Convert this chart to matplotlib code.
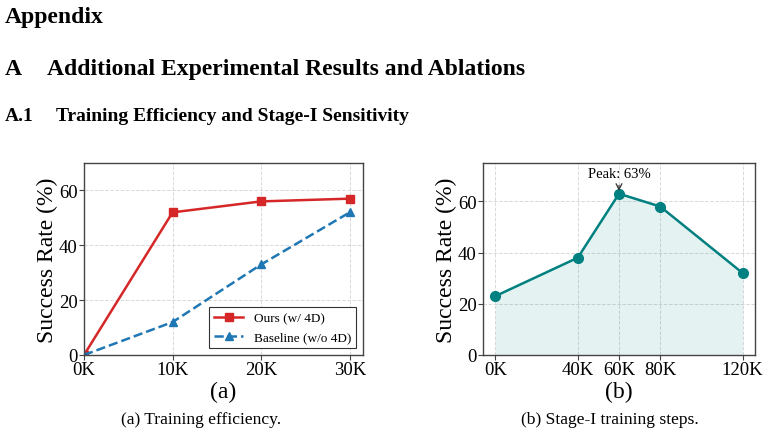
import matplotlib

matplotlib.use("Agg")

from matplotlib import pyplot as plt  # noqa: E402

plt.rcParams["font.family"] = ["Liberation Serif", "DejaVu Serif"]

# (a) training efficiency
steps_a = [0, 10, 20, 30]
steps_a_labels = ["0K", "10K", "20K", "30K"]
ours = [0, 52, 56, 57]
baseline = [0, 12, 33, 52]

# (b) stage-I steps
steps_b = [0, 40, 60, 80, 120]
steps_b_labels = ["0K", "40K", "60K", "80K", "120K"]
stage_rate = [23, 38, 63, 58, 32]

W, H = 769, 435


def _style(axis):
    for spine in axis.spines.values():
        spine.set_color("#444444")
        spine.set_linewidth(1.0)
    axis.grid(True, color="#d9d9d9", linestyle="--", linewidth=0.7)
    axis.set_axisbelow(True)
    axis.tick_params(labelsize=13.5, length=3.5, width=0.8, color="#444444", pad=1)
    axis.set_ylabel("Success Rate (%)", fontsize=17, labelpad=0.5)


figure = plt.figure(figsize=(W / 100, H / 100), dpi=100)

ax_a = figure.add_axes([84 / W, 1 - 356 / H, 279 / W, 192 / H])
ax_a.plot(steps_a, ours, color="#d62728", linewidth=1.8, marker="s", markersize=6,
          label="Ours (w/ 4D)")
ax_a.plot(steps_a, baseline, color="#1f77b4", linewidth=1.8, linestyle="--", marker="^",
          markersize=6, label="Baseline (w/o 4D)")
ax_a.set_xlim(0, 31.5)
ax_a.set_ylim(0, 70)
ax_a.set_xticks(steps_a, steps_a_labels)
ax_a.set_yticks([0, 20, 40, 60])
ax_a.set_xlabel("(a)", fontsize=17, labelpad=2)
_style(ax_a)
legend = ax_a.legend(loc="lower right", fontsize=9.5, fancybox=False, edgecolor="#333333",
                     framealpha=1.0, handlelength=2.2, borderaxespad=0.5)
legend.get_frame().set_linewidth(0.8)

ax_b = figure.add_axes([483 / W, 1 - 356 / H, 272 / W, 192 / H])
ax_b.fill_between(steps_b, stage_rate, color="#008080", alpha=0.1, linewidth=0)
ax_b.plot(steps_b, stage_rate, color="#008080", linewidth=1.8, marker="o", markersize=7)
peak = max(range(len(stage_rate)), key=lambda i: stage_rate[i])
ax_b.annotate(f"Peak: {stage_rate[peak]}%", xy=(steps_b[peak], stage_rate[peak]),
              xytext=(steps_b[peak], stage_rate[peak] + 8), ha="center", va="center",
              fontsize=10.5, arrowprops=dict(arrowstyle="->", color="#333333", lw=0.9))
ax_b.set_xlim(-6, 126)
ax_b.set_ylim(0, 75)
ax_b.set_xticks(steps_b, steps_b_labels)
ax_b.set_yticks([0, 20, 40, 60])
ax_b.set_xlabel("(b)", fontsize=17, labelpad=2)
_style(ax_b)


def _page_text(x, y, text, **kwargs):
    figure.text(x / W, 1 - y / H, text, va="baseline", **kwargs)


_page_text(5, 23, "Appendix", fontsize=17, fontweight="bold")
_page_text(5, 75, "A", fontsize=17, fontweight="bold")
_page_text(47, 75, "Additional Experimental Results and Ablations", fontsize=17, fontweight="bold")
_page_text(5, 121, "A.1", fontsize=14, fontweight="bold")
_page_text(56, 121, "Training Efficiency and Stage-I Sensitivity", fontsize=14, fontweight="bold")
_page_text(201, 424, "(a) Training efficiency.", fontsize=12.6, ha="center")
_page_text(610, 424, "(b) Stage-I training steps.", fontsize=12.6, ha="center")

figure.savefig("out.png", dpi=100)
plt.close(figure)
